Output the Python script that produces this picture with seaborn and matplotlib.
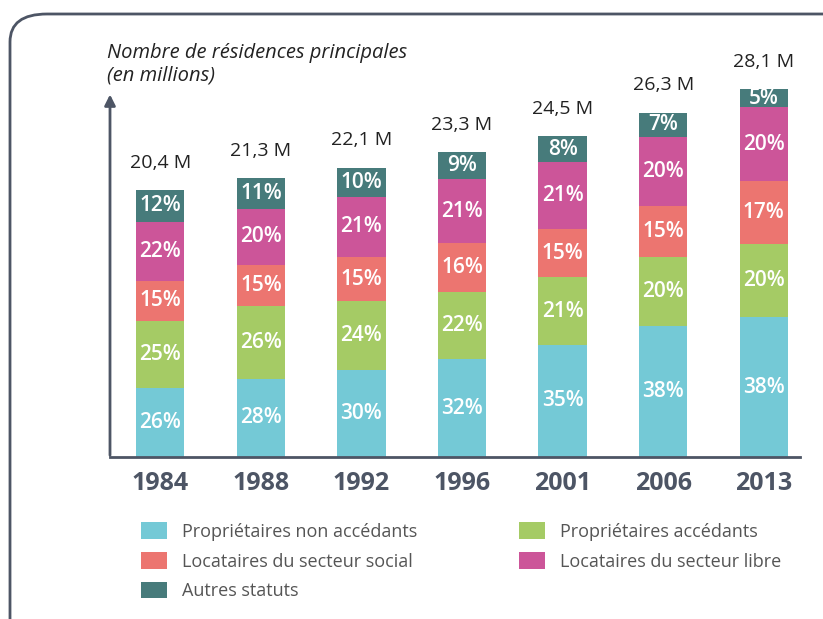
import numpy as np
import pandas as pd
import seaborn as sns
import matplotlib.pyplot as plt
from matplotlib.patches import FancyBboxPatch, Patch

# données
annees = ["1984", "1988", "1992", "1996", "2001", "2006", "2013"]
totaux = [20.4, 21.3, 22.1, 23.3, 24.5, 26.3, 28.1]
totaux_txt = ["20,4 M", "21,3 M", "22,1 M", "23,3 M", "24,5 M", "26,3 M", "28,1 M"]

categories = [
    "Propriétaires non accédants",
    "Propriétaires accédants",
    "Locataires du secteur social",
    "Locataires du secteur libre",
    "Autres statuts",
]
pct_non_accedants = [26, 28, 30, 32, 35, 38, 38]
pct_accedants = [25, 26, 24, 22, 21, 20, 20]
pct_social = [15, 15, 15, 16, 15, 15, 17]
pct_libre = [22, 20, 21, 21, 21, 20, 20]
pct_autres = [12, 11, 10, 9, 8, 7, 5]

couleurs = ["#74C9D6", "#A5CB65", "#EC7570", "#CC5599", "#477B7B"]
gris = "#4D5565"

pcts = np.array([pct_non_accedants, pct_accedants, pct_social, pct_libre, pct_autres])
valeurs = pcts * np.array(totaux) / 100.0
cumul = valeurs.cumsum(axis=0)

sns.set_style("white")
plt.rcParams['font.family'] = ['Open Sans', 'DejaVu Sans']

fig = plt.figure(figsize=(8.23, 6.19), dpi=100)
ax = fig.add_axes([110 / 823, 162 / 619, 690 / 823, 419 / 619])

# barres empilées : on dessine les cumuls du plus haut au plus bas
for k in range(len(categories) - 1, -1, -1):
    df = pd.DataFrame({"annee": annees, "valeur": cumul[k]})
    sns.barplot(data=df, x="annee", y="valeur", color=couleurs[k],
                width=0.48, saturation=1, linewidth=0, ax=ax, order=annees)

# étiquettes des pourcentages
for k in range(len(categories)):
    for i in range(len(annees)):
        milieu = cumul[k, i] - valeurs[k, i] / 2
        ax.text(i, milieu, f"{pcts[k, i]}%", ha="center", va="center",
                color="white", fontsize=15, fontweight="semibold")

# totaux au-dessus des barres
for i in range(len(annees)):
    ax.text(i, totaux[i] + 1.4, totaux_txt[i], ha="center", va="bottom",
            color="#222222", fontsize=14)

ax.set_xlim(-0.5, 6.36)
ax.set_ylim(0, 32)
ax.set_xlabel("")
ax.set_ylabel("")
ax.set_yticks([])
sns.despine(ax=ax, left=True)
ax.spines["bottom"].set_color(gris)
ax.spines["bottom"].set_linewidth(2)
ax.tick_params(axis="x", length=0, pad=10)
for lab in ax.get_xticklabels():
    lab.set_fontsize(18)
    lab.set_fontweight("bold")
    lab.set_color(gris)

# axe vertical avec flèche
ax.annotate("", xy=(-0.5, 27.9), xytext=(-0.5, -0.08),
            arrowprops=dict(arrowstyle="-|>", color=gris, lw=2, mutation_scale=16),
            annotation_clip=False)

fig.text(107 / 823, 1 - 64.5 / 619, "Nombre de résidences principales\n(en millions)",
         ha="left", va="center", fontsize=14.5, style="italic", color="#222222",
         linespacing=1.15)

# légende
ordre = [0, 2, 4, 1, 3]
poignees = [Patch(facecolor=couleurs[k], edgecolor="none") for k in ordre]
noms = [categories[k] for k in ordre]
fig.legend(poignees, noms, ncol=2, loc="upper left",
           bbox_to_anchor=(125 / 823, 1 - 506 / 619), frameon=False,
           fontsize=13, labelcolor="#555555", handlelength=1.44,
           handleheight=1.05, handletextpad=0.83, labelspacing=0.62,
           columnspacing=5.6)

# cadre arrondi
cadre = FancyBboxPatch((10 / 823, -0.2), 1.2, 1 - 14 / 619 + 0.2,
                       boxstyle="round,pad=0,rounding_size=0.045",
                       transform=fig.transFigure, fill=False,
                       edgecolor=gris, linewidth=2, clip_on=False)
fig.patches.append(cadre)

fig.savefig("out.png", dpi=100)
